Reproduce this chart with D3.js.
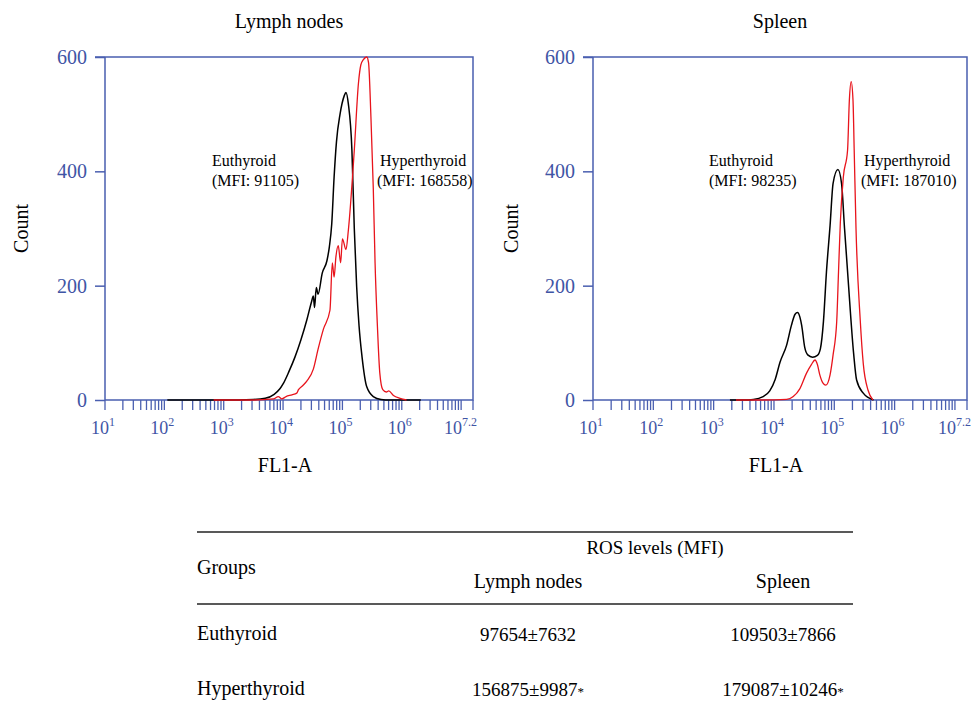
<!DOCTYPE html>
<html>
<head>
<meta charset="utf-8">
<script src="https://cdn.jsdelivr.net/npm/d3@7.9.0/dist/d3.min.js"></script>
<style>
  html, body { margin: 0; padding: 0; background: #fff; }
  svg { display: block; font-family: "Liberation Serif", "DejaVu Serif", serif; }
</style>
</head>
<body>
<svg id="chart" width="973" height="703"></svg>
<script>
// histogram points: [log10(FL1-A), count]
const lymphEuthyroid = [
  [2.05, 0], [3.0, 0], [3.5, 1], [3.7, 3], [3.85, 10], [3.95, 20], [4.0, 28], [4.1, 50],
  [4.2, 75], [4.3, 105], [4.4, 140], [4.48, 172], [4.51, 182], [4.53, 162], [4.56, 197],
  [4.59, 185], [4.66, 222], [4.74, 244], [4.78, 268], [4.82, 308], [4.86, 390], [4.9, 452],
  [4.96, 500], [5.03, 532], [5.06, 538], [5.1, 518], [5.16, 437], [5.2, 300], [5.24, 198],
  [5.28, 130], [5.33, 76], [5.41, 23], [5.52, 6], [5.65, 1], [5.8, 0], [6.32, 0]
];
const lymphHyperthyroid = [
  [2.83, 0], [3.5, 0], [3.84, 2], [3.92, 6], [3.98, 2], [4.05, 6], [4.15, 9], [4.23, 12],
  [4.26, 18], [4.33, 25], [4.4, 33], [4.51, 54], [4.59, 89], [4.68, 124], [4.79, 157],
  [4.83, 240], [4.86, 215], [4.89, 250], [4.93, 270], [4.97, 240], [5.0, 282], [5.06, 263],
  [5.1, 297], [5.2, 437], [5.27, 554], [5.31, 586], [5.35, 595], [5.41, 600], [5.44, 590],
  [5.48, 496], [5.52, 370], [5.55, 240], [5.59, 128], [5.63, 47], [5.68, 18], [5.74, 14],
  [5.78, 16], [5.86, 8], [5.97, 3], [6.08, 0]
];
const spleenEuthyroid = [
  [3.27, 0], [3.5, 0], [3.66, 1], [3.82, 6], [3.93, 16], [4.02, 36], [4.1, 66], [4.21, 96],
  [4.29, 131], [4.35, 150], [4.39, 153], [4.43, 145], [4.46, 130], [4.51, 92], [4.56, 79],
  [4.64, 75], [4.72, 78], [4.77, 90], [4.82, 137], [4.87, 224], [4.93, 305], [4.98, 379],
  [5.06, 403], [5.12, 379], [5.17, 300], [5.23, 210], [5.32, 82], [5.37, 35], [5.48, 12],
  [5.65, 0]
];
const spleenHyperthyroid = [
  [3.37, 0], [3.8, 0], [4.21, 1], [4.32, 6], [4.43, 20], [4.54, 47], [4.62, 62], [4.68, 70],
  [4.72, 62], [4.76, 44], [4.81, 30], [4.86, 26], [4.93, 44], [4.98, 79], [5.04, 137],
  [5.07, 224], [5.1, 310], [5.15, 390], [5.22, 437], [5.25, 525], [5.28, 557], [5.31, 525],
  [5.33, 437], [5.36, 300], [5.43, 140], [5.48, 64], [5.56, 17], [5.64, 0]
];

const panels = [
  { title: "Lymph nodes", euthyroid: lymphEuthyroid, hyperthyroid: lymphHyperthyroid,
    euthyroidMFI: "91105", hyperthyroidMFI: "168558" },
  { title: "Spleen", euthyroid: spleenEuthyroid, hyperthyroid: spleenHyperthyroid,
    euthyroidMFI: "98235", hyperthyroidMFI: "187010" }
];

const yTicks = [0, 200, 400, 600];
const xDecades = [1, 2, 3, 4, 5, 6, 7];
const xLabels = ["1", "2", "3", "4", "5", "6", "7.2"];

const tableHeader = ["Groups", "ROS levels (MFI)", "Lymph nodes", "Spleen"];
const tableGroups = ["Euthyroid", "Hyperthyroid"];
const tableLymph = ["97654±7632", "156875±9987"];
const tableSpleen = ["109503±7866", "179087±10246"];
const tableStar = [false, true];

const axisColor = "#4a5fb0";
const labelColor = "#3f55a5";

const svg = d3.select("#chart");

// panel frames (left, right, top, bottom)
const frames = [
  { x0: 105, x1: 473, top: 57, bottom: 400, countX: 22, annot: [212, 380, 380] },
  { x0: 593, x1: 967, top: 57, bottom: 400, countX: 512, annot: [709, 864, 864] }
];

panels.forEach((p, i) => {
  const f = frames[i];
  const g = svg.append("g");

  const x = d3.scaleLinear().domain([1, 7.2]).range([f.x0, f.x1]);
  const y = d3.scaleLinear().domain([0, 600]).range([f.bottom, f.top]);

  // frame
  g.append("path")
    .attr("d", `M${f.x0 - 10},${f.top}H${f.x1}V${f.bottom}H${f.x0}V${f.top}`)
    .attr("fill", "none").attr("stroke", axisColor).attr("stroke-width", 1.5);

  // y axis
  const yAxis = g.append("g")
    .attr("transform", `translate(${f.x0},0)`)
    .call(d3.axisLeft(y).tickValues(yTicks).tickSize(10).tickPadding(8));
  yAxis.select(".domain").remove();
  yAxis.selectAll("line").attr("stroke", axisColor).attr("stroke-width", 1.5);
  yAxis.selectAll("text")
    .attr("fill", labelColor)
    .style("font-size", "20px")
    .style("font-family", "Liberation Serif, serif");

  // x ticks: decades plus log minor ticks
  const ticks = [];
  xDecades.forEach(d => {
    ticks.push(d);
    if (d < 7) for (let m = 2; m <= 9; m++) ticks.push(d + Math.log10(m));
  });
  ticks.push(7.2);
  g.append("g").selectAll("line")
    .data(ticks)
    .join("line")
    .attr("x1", d => x(d)).attr("x2", d => x(d))
    .attr("y1", f.bottom).attr("y2", f.bottom + 10)
    .attr("stroke", axisColor).attr("stroke-width", 1.3);

  const xl = g.append("g").selectAll("text")
    .data(xLabels)
    .join("text")
    .attr("x", d => d === "7.2" ? x(+d) + 4 : x(+d) - 2)
    .attr("y", f.bottom + 34)
    .attr("text-anchor", d => d === "7.2" ? "end" : "middle")
    .attr("fill", labelColor)
    .style("font-size", "18px");
  xl.append("tspan").text("10");
  xl.append("tspan").attr("dy", -8).style("font-size", "12px").text(d => d);

  // curves
  const line = d3.line()
    .x(d => x(d[0]))
    .y(d => y(d[1]))
    .curve(d3.curveMonotoneX);
  g.append("path").datum(p.euthyroid)
    .attr("d", line).attr("fill", "none").attr("stroke", "#000").attr("stroke-width", 1.5);
  g.append("path").datum(p.hyperthyroid)
    .attr("d", line).attr("fill", "none").attr("stroke", "#e8141c").attr("stroke-width", 1.3);

  // annotations
  const a1 = g.append("text").attr("x", f.annot[0]).attr("y", 166).style("font-size", "16px");
  a1.append("tspan").text("Euthyroid");
  a1.append("tspan").attr("x", f.annot[0]).attr("dy", 20).text(`(MFI: ${p.euthyroidMFI})`);
  const a2 = g.append("text").attr("x", f.annot[1]).attr("y", 166).style("font-size", "16px");
  a2.append("tspan").text("Hyperthyroid");
  a2.append("tspan").attr("x", f.annot[2] - 3).attr("dy", 20).text(`(MFI: ${p.hyperthyroidMFI})`);

  // titles and axis labels
  g.append("text")
    .attr("x", (f.x0 + f.x1) / 2).attr("y", 28)
    .attr("text-anchor", "middle").style("font-size", "20px")
    .text(p.title);
  g.append("text")
    .attr("x", (f.x0 + f.x1) / 2 - 4).attr("y", 472)
    .attr("text-anchor", "middle").style("font-size", "20px")
    .text("FL1-A");
  g.append("text")
    .attr("transform", `translate(${f.countX + 6},${(f.top + f.bottom) / 2}) rotate(-90)`)
    .attr("text-anchor", "middle").style("font-size", "20px")
    .text("Count");
});

// table
const t = svg.append("g").style("font-size", "20px");
t.append("line").attr("x1", 197).attr("x2", 853).attr("y1", 532).attr("y2", 532)
  .attr("stroke", "#222").attr("stroke-width", 1.5);
t.append("line").attr("x1", 197).attr("x2", 853).attr("y1", 604).attr("y2", 604)
  .attr("stroke", "#222").attr("stroke-width", 1.5);

const colLymph = 528, colSpleen = 783;
t.append("text").attr("x", 197).attr("y", 574).text(tableHeader[0]);
t.append("text").attr("x", 655).attr("y", 554).attr("text-anchor", "middle").style("font-size", "19px").text(tableHeader[1]);
t.append("text").attr("x", colLymph).attr("y", 588).attr("text-anchor", "middle").text(tableHeader[2]);
t.append("text").attr("x", colSpleen).attr("y", 588).attr("text-anchor", "middle").text(tableHeader[3]);

const rowY = [640, 695];
tableGroups.forEach((grp, i) => {
  t.append("text").attr("x", 197).attr("y", rowY[i]).text(grp);
  [[tableLymph, colLymph], [tableSpleen, colSpleen]].forEach(([vals, cx]) => {
    const tx = t.append("text").attr("x", cx).attr("y", rowY[i] + 1)
      .attr("text-anchor", "middle").style("font-size", "19px");
    tx.append("tspan").text(vals[i]);
    if (tableStar[i]) tx.append("tspan").style("font-size", "13px").text("*");
  });
});
</script>
</body>
</html>
